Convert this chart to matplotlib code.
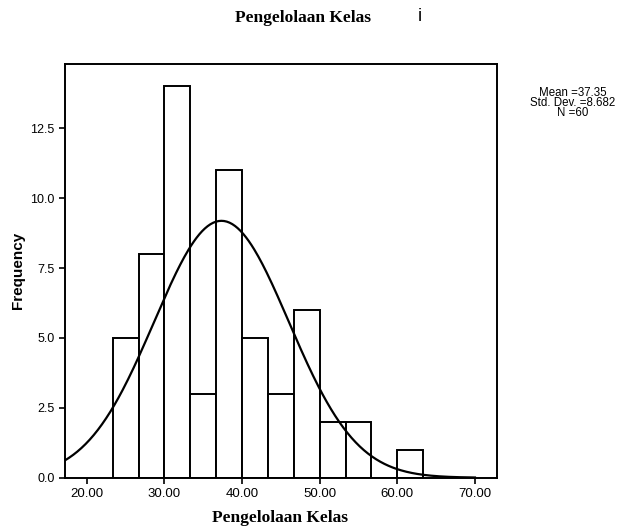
import numpy as np
import matplotlib.pyplot as plt

# histogram bins (SPSS style) and counts
bin_edges = [23.33, 26.67, 30.0, 33.33, 36.67, 40.0, 43.33, 46.67, 50.0, 53.33, 56.67, 60.0, 63.33]
counts = [5, 8, 14, 3, 11, 5, 3, 6, 2, 2, 0, 1]
x_ticks = [20, 30, 40, 50, 60, 70]
y_ticks = [0.0, 2.5, 5.0, 7.5, 10.0, 12.5]
mean = 37.35
std_dev = 8.682
n = 60

fig = plt.figure(figsize=(6.18, 5.26), dpi=100)
ax = fig.add_axes([0.1052, 0.0918, 0.6985, 0.7865])

widths = np.diff(bin_edges)
ax.bar(bin_edges[:-1], counts, width=widths, align='edge',
       facecolor='white', edgecolor='black', linewidth=1.4)

# normal curve scaled to counts
bw = widths.mean()
xs = np.linspace(17.2, 70, 300)
ys = n * bw / (std_dev * np.sqrt(2 * np.pi)) * np.exp(-0.5 * ((xs - mean) / std_dev) ** 2)
ax.plot(xs, ys, color='black', linewidth=1.6)

ax.set_xlim(17.2, 72.8)
ax.set_ylim(0, 14.8)
ax.set_xticks(x_ticks)
ax.set_xticklabels([f'{t:.2f}' for t in x_ticks], family='Liberation Sans', fontsize=9.5)
ax.set_yticks(y_ticks)
ax.set_yticklabels([f'{t:.1f}' for t in y_ticks], family='Liberation Sans', fontsize=9)
ax.tick_params(direction='out', length=4, width=1.2, colors='black')
for s in ax.spines.values():
    s.set_linewidth(1.4)

ax.set_ylabel('Frequency', family='Liberation Sans', fontweight='bold', fontsize=11)
ax.yaxis.set_label_coords(-0.093, 0.5)
ax.set_xlabel('Pengelolaan Kelas', family='Liberation Serif', fontweight='bold', fontsize=12.5)
ax.xaxis.set_label_coords(0.497, -0.077)

fig.text(0.491, 0.966, 'Pengelolaan Kelas', family='Liberation Serif', fontweight='bold',
         fontsize=12.5, ha='center', va='center')
fig.text(0.68, 0.968, 'i', family='Liberation Sans', fontsize=13, ha='center', va='center')

fig.text(0.927, 0.804, f'Mean ={mean}\nStd. Dev. ={std_dev}\nN ={n}',
         family='Liberation Sans', fontsize=8.3, ha='center', va='center', linespacing=0.8)

fig.savefig('out.png', dpi=100)
